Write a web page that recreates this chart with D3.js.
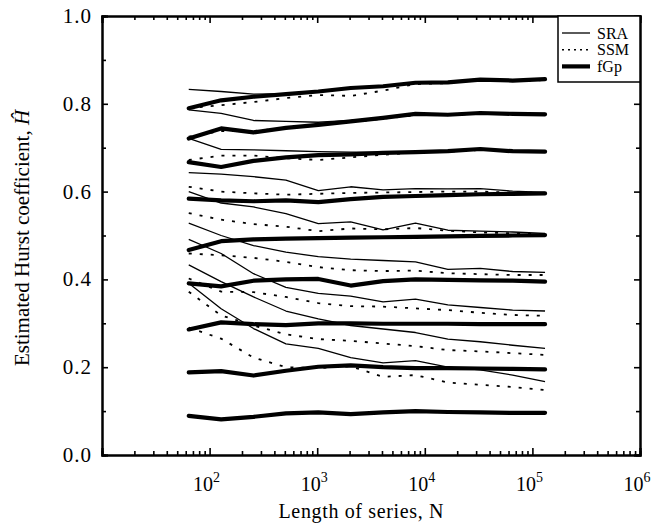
<!DOCTYPE html>
<html><head><meta charset="utf-8">
<script src="https://cdn.jsdelivr.net/npm/d3@7/dist/d3.min.js"></script>
<style>
html,body{margin:0;padding:0;background:#fff;}
svg{display:block;}
svg text{font-family:"Liberation Serif","DejaVu Serif",serif !important;fill:#000;}
</style></head>
<body><svg id="chart" width="664" height="530" font-family="Liberation Serif, DejaVu Serif, serif"></svg>
<script>
// Series lengths N = 2^6 ... 2^17
const seriesLength = [64, 128, 256, 512, 1024, 2048, 4096, 8192, 16384, 32768, 65536, 131072];
// true Hurst values of the simulated series
const trueH = [0.1, 0.2, 0.3, 0.4, 0.5, 0.6, 0.7, 0.8, 0.9];
// Estimated H for each true H (rows) against N (columns)
const fgpEst = [
  [0.089, 0.081, 0.087, 0.095, 0.097, 0.093, 0.097, 0.100, 0.098, 0.097, 0.096, 0.096],
  [0.188, 0.191, 0.181, 0.192, 0.201, 0.204, 0.200, 0.198, 0.198, 0.197, 0.196, 0.195],
  [0.286, 0.302, 0.298, 0.296, 0.300, 0.300, 0.299, 0.299, 0.299, 0.298, 0.298, 0.298],
  [0.391, 0.384, 0.397, 0.400, 0.401, 0.386, 0.396, 0.400, 0.399, 0.398, 0.397, 0.395],
  [0.467, 0.487, 0.491, 0.493, 0.494, 0.495, 0.496, 0.497, 0.498, 0.499, 0.500, 0.501],
  [0.584, 0.580, 0.578, 0.580, 0.576, 0.583, 0.588, 0.590, 0.592, 0.594, 0.595, 0.596],
  [0.667, 0.656, 0.670, 0.678, 0.683, 0.685, 0.688, 0.690, 0.692, 0.697, 0.692, 0.691],
  [0.721, 0.744, 0.735, 0.745, 0.752, 0.760, 0.768, 0.777, 0.775, 0.779, 0.777, 0.776],
  [0.790, 0.808, 0.816, 0.822, 0.828, 0.836, 0.840, 0.848, 0.849, 0.855, 0.853, 0.856]
];
const sraEst = [
  [0.391, 0.333, 0.288, 0.253, 0.243, 0.222, 0.210, 0.215, 0.200, 0.194, 0.182, 0.167],
  [0.433, 0.395, 0.360, 0.328, 0.310, 0.295, 0.287, 0.279, 0.264, 0.258, 0.250, 0.243],
  [0.491, 0.459, 0.413, 0.382, 0.368, 0.362, 0.349, 0.355, 0.342, 0.336, 0.330, 0.328],
  [0.528, 0.500, 0.477, 0.462, 0.452, 0.446, 0.443, 0.440, 0.423, 0.425, 0.418, 0.416],
  [0.600, 0.574, 0.565, 0.550, 0.527, 0.531, 0.513, 0.528, 0.512, 0.510, 0.508, 0.505],
  [0.643, 0.640, 0.634, 0.626, 0.602, 0.611, 0.604, 0.607, 0.606, 0.607, 0.601, 0.598],
  [0.721, 0.696, 0.695, 0.693, 0.691, 0.690, 0.690, 0.691, 0.692, 0.696, 0.693, 0.692],
  [0.786, 0.778, 0.762, 0.760, 0.758, 0.762, 0.768, 0.777, 0.776, 0.780, 0.778, 0.778],
  [0.833, 0.828, 0.822, 0.823, 0.829, 0.836, 0.840, 0.848, 0.850, 0.855, 0.854, 0.857]
];
const ssmEst = [
  [0.290, 0.265, 0.222, 0.200, 0.198, 0.202, 0.178, 0.182, 0.165, 0.160, 0.155, 0.148],
  [0.372, 0.318, 0.295, 0.275, 0.264, 0.260, 0.254, 0.248, 0.239, 0.236, 0.232, 0.228],
  [0.402, 0.372, 0.371, 0.360, 0.346, 0.339, 0.338, 0.334, 0.330, 0.324, 0.319, 0.317],
  [0.459, 0.455, 0.449, 0.440, 0.428, 0.421, 0.419, 0.420, 0.414, 0.412, 0.410, 0.410],
  [0.551, 0.536, 0.526, 0.520, 0.510, 0.516, 0.514, 0.517, 0.511, 0.507, 0.505, 0.503],
  [0.611, 0.600, 0.596, 0.593, 0.595, 0.597, 0.598, 0.599, 0.600, 0.600, 0.598, 0.597],
  [0.672, 0.682, 0.682, 0.676, 0.672, 0.678, 0.684, 0.689, 0.691, 0.695, 0.692, 0.691],
  [0.725, 0.738, 0.738, 0.745, 0.752, 0.758, 0.766, 0.774, 0.774, 0.778, 0.776, 0.775],
  [0.790, 0.797, 0.804, 0.813, 0.820, 0.818, 0.830, 0.845, 0.847, 0.853, 0.852, 0.854]
];
const yTickValues = [0.0, 0.2, 0.4, 0.6, 0.8, 1.0];
const xTickExponents = [2, 3, 4, 5, 6];
const legendLabels = ["SRA", "SSM", "fGp"];

const svg = d3.select("#chart");
const m = {left: 102, right: 640, top: 16, bottom: 455};
const x = d3.scaleLog().domain([10, 1e6]).range([m.left, m.right]);
const y = d3.scaleLinear().domain([0, 1]).range([m.bottom, m.top]);

const line = d3.line().x((d, i) => x(seriesLength[i])).y(d => y(d));

const g = svg.append("g");
g.selectAll(".fgp").data(fgpEst).join("path")
  .attr("d", line).attr("fill", "none").attr("stroke", "#000")
  .attr("stroke-width", 4.2).attr("stroke-linejoin", "round").attr("stroke-linecap", "round");
g.selectAll(".sra").data(sraEst).join("path")
  .attr("d", line).attr("fill", "none").attr("stroke", "#000")
  .attr("stroke-width", 1.3).attr("stroke-linejoin", "round");
g.selectAll(".ssm").data(ssmEst).join("path")
  .attr("d", line).attr("fill", "none").attr("stroke", "#000")
  .attr("stroke-width", 1.8).attr("stroke-dasharray", "3,8");

const minorX = [];
for (let e = 1; e < 6; e++) for (let k = 2; k <= 9; k++) minorX.push(k * Math.pow(10, e));
const majorX = [1, 2, 3, 4, 5, 6].map(e => Math.pow(10, e));
const minorY = [0.1, 0.3, 0.5, 0.7, 0.9];

function styleAxis(sel) {
  sel.selectAll("path").attr("stroke", "#000").attr("stroke-width", 2);
  sel.selectAll("line").attr("stroke", "#000").attr("stroke-width", 1.6);
}
const axes = [
  [d3.axisBottom(x).tickValues(minorX).tickSize(-4), `translate(0,${m.bottom})`],
  [d3.axisBottom(x).tickValues(majorX).tickSize(-7), `translate(0,${m.bottom})`],
  [d3.axisTop(x).tickValues(minorX).tickSize(-4), `translate(0,${m.top})`],
  [d3.axisTop(x).tickValues(majorX).tickSize(-7), `translate(0,${m.top})`],
  [d3.axisLeft(y).tickValues(minorY).tickSize(-4), `translate(${m.left},0)`],
  [d3.axisLeft(y).tickValues(yTickValues).tickSize(-6), `translate(${m.left},0)`],
  [d3.axisRight(y).tickValues(minorY).tickSize(-4), `translate(${m.right},0)`],
  [d3.axisRight(y).tickValues(yTickValues).tickSize(-6), `translate(${m.right},0)`]
];
axes.forEach(([ax, tr]) => {
  svg.append("g").attr("transform", tr).call(ax.tickFormat("")).call(styleAxis);
});

const FONT = "Liberation Serif, DejaVu Serif, serif";
// Y tick labels
svg.selectAll(".ylab").data(yTickValues).join("text")
  .attr("font-family", FONT)
  .attr("x", m.left - 10).attr("y", d => y(d) + 7)
  .attr("text-anchor", "end").attr("font-size", 21).attr("letter-spacing", 1)
  .text(d => d.toFixed(1));

// X tick labels 10^e
const xl = svg.selectAll(".xlab").data(xTickExponents).join("text")
  .attr("font-family", FONT)
  .attr("x", d => x(Math.pow(10, d)) - 3).attr("y", 491)
  .attr("text-anchor", "middle").attr("font-size", 20);
xl.append("tspan").text("10");
xl.append("tspan").attr("font-size", 14).attr("dy", -9).text(d => d);

// axis titles
svg.append("text").attr("font-family", FONT)
  .attr("x", 361).attr("y", 518)
  .attr("text-anchor", "middle").attr("font-size", 20)
  .attr("textLength", 165).attr("lengthAdjust", "spacing")
  .text("Length of series, N");
const yt = svg.append("text").attr("font-family", FONT)
  .attr("transform", "translate(29,238) rotate(-90)")
  .attr("text-anchor", "middle").attr("font-size", 21);
yt.append("tspan").text("Estimated Hurst coefficient, ");
yt.append("tspan").attr("font-style", "italic").text("\u0124");

// legend
const lg = svg.append("g");
lg.append("rect").attr("x", 558).attr("y", m.top).attr("width", m.right - 558).attr("height", 66)
  .attr("fill", "#fff").attr("stroke", "#000").attr("stroke-width", 1.5);
const legStyles = [{w: 1.3, dash: null}, {w: 1.5, dash: "2,4"}, {w: 4.2, dash: null}];
legendLabels.forEach((lab, i) => {
  const ly = 33 + i * 16.7;
  lg.append("line").attr("x1", 562).attr("x2", 590).attr("y1", ly).attr("y2", ly)
    .attr("stroke", "#000").attr("stroke-width", legStyles[i].w)
    .attr("stroke-dasharray", legStyles[i].dash);
  lg.append("text").attr("font-family", FONT)
    .attr("x", 597).attr("y", ly + 5.5).attr("font-size", 16).text(lab);
});
</script></body></html>
